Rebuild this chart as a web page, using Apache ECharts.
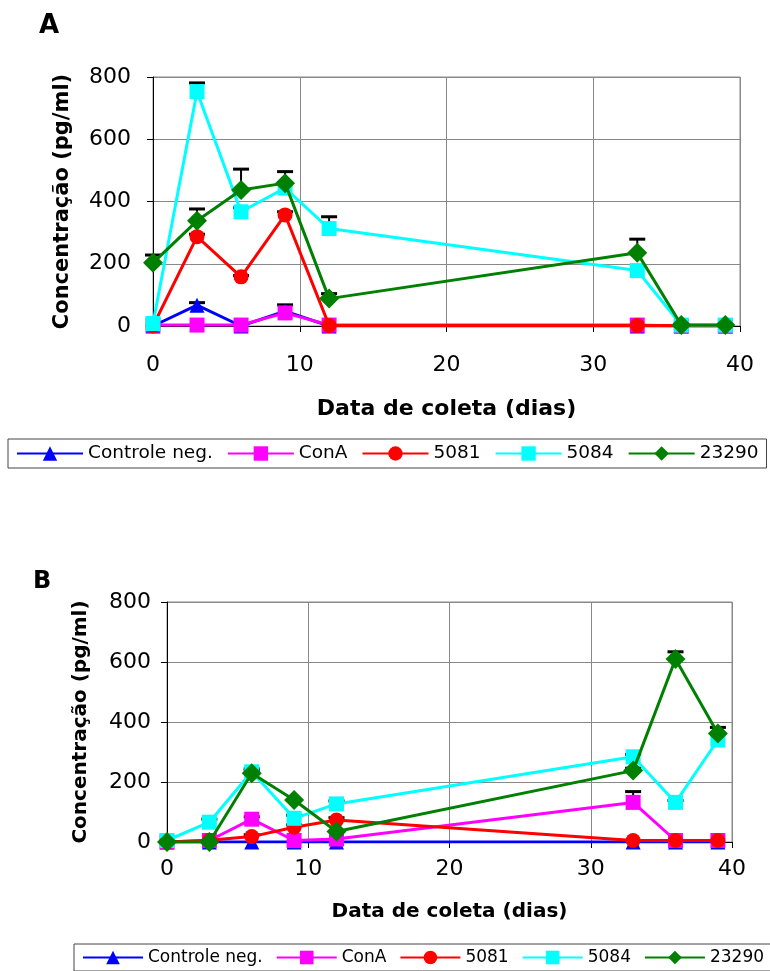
<!DOCTYPE html>
<html><head><meta charset="utf-8">
<script src="https://cdn.jsdelivr.net/npm/echarts@6/dist/echarts.min.js"></script>
<style>html,body{margin:0;padding:0;background:#fff}#c{width:770px;height:971px}</style>
</head><body><div id="c"></div>
<script>
// ---- data ----
const days = [0, 3, 6, 9, 12, 33, 36, 39];
const seriesNames = ['Controle neg.', 'ConA', '5081', '5084', '23290'];
const xTicks = [0, 10, 20, 30, 40];
const yTicks = [0, 200, 400, 600, 800];

// Panel A
const ctrlA   = [0, 67, 0, 48, 0, 0, 0, 0];
const conaA   = [3, 3, 3, 42, 3, 3, 0, 0];
const s5081A  = [0, 287, 158, 357, 2, 2, 2, 2];
const s5084A  = [8, 753, 367, 443, 313, 178, 3, 3];
const s23290A = [203, 338, 437, 459, 88, 235, 3, 3];
const errCtrlA   = [0, 8, 0, 20, 0, 0, 0, 0];
const errConaA   = [0, 0, 0, 0, 0, 0, 0, 0];
const err5081A   = [0, 8, 4, 10, 0, 0, 0, 0];
const err5084A   = [0, 28, 13, 0, 38, 0, 0, 0];
const err23290A  = [25, 38, 67, 37, 16, 44, 0, 0];

// Panel B
const ctrlB   = [0, 0, 0, 0, 0, 0, 0, 0];
const conaB   = [0, 5, 76, 5, 10, 132, 5, 5];
const s5081B  = [0, 6, 18, 49, 73, 5, 5, 5];
const s5084B  = [5, 66, 234, 79, 127, 284, 132, 340];
const s23290B = [0, 0, 229, 140, 35, 238, 610, 362];
const errCtrlB   = [0, 0, 0, 0, 0, 0, 0, 0];
const errConaB   = [0, 0, 8, 0, 0, 36, 0, 0];
const err5081B   = [0, 0, 6, 8, 8, 0, 0, 0];
const err5084B   = [0, 10, 10, 10, 10, 8, 6, 0];
const err23290B  = [0, 0, 10, 0, 0, 8, 24, 20];

// ---- styles ----
const colors = ['#0000FF', '#FF00FF', '#FF0000', '#00FFFF', '#008000'];
const symbols = ['triangle', 'rect', 'circle', 'rect', 'diamond'];
const symSizes = [15, 15, 15, 15, 20];
const FONT = 'DejaVu Sans';

const panels = [
  { vals: [ctrlA, conaA, s5081A, s5084A, s23290A], errs: [errCtrlA, errConaA, err5081A, err5084A, err23290A] },
  { vals: [ctrlB, conaB, s5081B, s5084B, s23290B], errs: [errCtrlB, errConaB, err5081B, err5084B, err23290B] }
];

function errRender(params, api) {
  const x = api.value(0), y = api.value(1), e = api.value(2);
  const p0 = api.coord([x, y]);
  const p1 = api.coord([x, y + e]);
  return { type: 'group', children: [
    { type: 'line', shape: { x1: p0[0], y1: p0[1], x2: p1[0], y2: p1[1] }, style: { stroke: '#000', lineWidth: 2 } },
    { type: 'line', shape: { x1: p1[0] - 8, y1: p1[1], x2: p1[0] + 8, y2: p1[1] }, style: { stroke: '#000', lineWidth: 3 } }
  ]};
}

const series = [];
panels.forEach((p, pi) => {
  p.vals.forEach((vals, si) => {
    const ed = [];
    days.forEach((d, i) => { if (p.errs[si][i] > 0) ed.push([d, vals[i], p.errs[si][i]]); });
    series.push({ type: 'custom', xAxisIndex: pi, yAxisIndex: pi, renderItem: errRender, data: ed, z: 1, silent: true });
  });
  p.vals.forEach((vals, si) => {
    series.push({
      type: 'line', name: seriesNames[si], xAxisIndex: pi, yAxisIndex: pi, z: 2 + si,
      data: days.map((d, i) => [d, vals[i]]),
      symbol: symbols[si], symbolSize: symSizes[si],
      lineStyle: { color: colors[si], width: 3 },
      itemStyle: { color: colors[si] },
      showSymbol: true
    });
  });
});

function xAx(gi, labelSize, margin, nameGap, nameSize) {
  return {
    type: 'value', gridIndex: gi, min: 0, max: 40, interval: 10,
    name: 'Data de coleta (dias)', nameLocation: 'middle', nameGap: nameGap,
    nameTextStyle: { fontFamily: FONT, fontWeight: 'bold', fontSize: nameSize, color: '#000' },
    axisLine: { show: true, onZero: false, lineStyle: { color: '#000', width: 1 } },
    axisTick: { show: true, length: 6, lineStyle: { color: '#000' } },
    axisLabel: { fontFamily: FONT, fontSize: labelSize, color: '#000', margin: margin,
      formatter: v => xTicks.includes(v) ? String(v) : '' },
    splitLine: { show: true, lineStyle: { color: '#888', width: 1 } }
  };
}
function yAx(gi, labelSize, margin, nameGap, nameSize) {
  return {
    type: 'value', gridIndex: gi, min: 0, max: 800, interval: 200,
    name: 'Concentração (pg/ml)', nameLocation: 'middle', nameGap: nameGap,
    nameTextStyle: { fontFamily: FONT, fontWeight: 'bold', fontSize: nameSize, color: '#000' },
    axisLine: { show: true, lineStyle: { color: '#000', width: 1 } },
    axisTick: { show: true, length: 6, lineStyle: { color: '#000' } },
    axisLabel: { fontFamily: FONT, fontSize: labelSize, color: '#000', margin: margin,
      formatter: v => yTicks.includes(v) ? String(v) : '' },
    splitLine: { show: true, lineStyle: { color: '#888', width: 1 } }
  };
}

const option = {
  animation: false,
  backgroundColor: '#fff',
  title: [
    { text: 'A', left: 34, top: 8, textStyle: { fontFamily: FONT, fontWeight: 'bold', fontSize: 26, color: '#000' } },
    { text: 'B', left: 28, top: 565, textStyle: { fontFamily: FONT, fontWeight: 'bold', fontSize: 24, color: '#000' } }
  ],
  grid: [
    { left: 153, right: 30, top: 77, bottom: 645, show: true, borderColor: '#888', borderWidth: 1, backgroundColor: 'transparent' },
    { left: 167, right: 38, top: 602, bottom: 129, show: true, borderColor: '#888', borderWidth: 1, backgroundColor: 'transparent' }
  ],
  xAxis: [xAx(0, 22, 28, 72, 22), xAx(1, 22, 16, 60, 20)],
  yAxis: [yAx(0, 22, 22, 80, 21), yAx(1, 22, 16, 76, 20)],
  legend: [
    { data: seriesNames, left: 8, top: 439, width: 760, orient: 'horizontal', padding: [5, 8], itemGap: 14,
      itemWidth: 66, itemHeight: 18, borderColor: '#444', borderWidth: 1,
      lineStyle: { width: 2 },
      textStyle: { fontFamily: FONT, fontSize: 18.5, color: '#000' } },
    { data: seriesNames, left: 74, top: 944, width: 720, orient: 'horizontal', padding: [5, 8], itemGap: 13,
      itemWidth: 60, itemHeight: 17, borderColor: '#444', borderWidth: 1,
      lineStyle: { width: 2 },
      textStyle: { fontFamily: FONT, fontSize: 17, color: '#000' } }
  ],
  series: series
};

const chart = echarts.init(document.getElementById('c'), null, { renderer: 'canvas' });
chart.setOption(option);
</script>
</body></html>
